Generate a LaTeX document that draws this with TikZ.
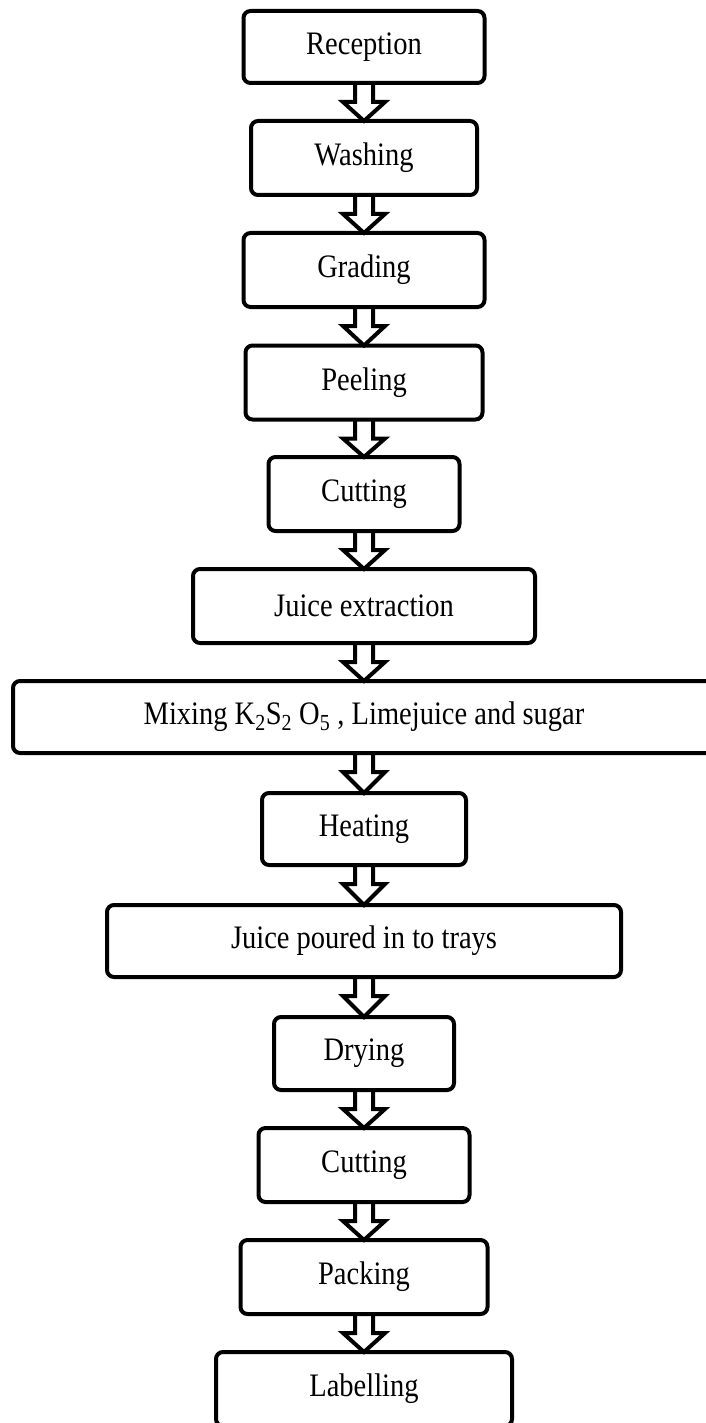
\documentclass[tikz,border=0pt]{standalone}
\usepackage{fontspec}
\setmainfont{Liberation Serif}
\usetikzlibrary{calc}
\pgfdeclarelayer{background}
\pgfsetlayers{background,main}

% taller-than-wide lettering used in the stage boxes
\newcommand\tallstretch[1]{\scalebox{1}[1.15]{#1}}

\tikzset{
  stage/.style={draw, line width=4pt, rounded corners=7pt, minimum height=74pt,
    inner sep=0pt, anchor=center, font=\fontsize{28.5}{34}\selectfont},
  hollow/.style={draw, fill=white, line width=4pt, line join=miter},
}

% hollow block arrow from the bottom of one stage to the top of the next
\newcommand\flowarrow[2]{%
  \draw[hollow] let \p1=(#1.south), \p2=(#2.north) in
    (\x1-9pt,\y1+2pt) -- (\x1-9pt,\y1-17pt) -- (\x1-21pt,\y1-17pt)
    -- (\x1,\y2-2pt) -- (\x1+21pt,\y1-17pt) -- (\x1+9pt,\y1-17pt)
    -- (\x1+9pt,\y1+2pt);}

\begin{document}
\begin{tikzpicture}[x=1pt,y=-1pt]
\useasboundingbox (0,0) rectangle (706,1423);

\node[stage, minimum width=241pt, minimum height=72pt] (s1) at (364,47) {\tallstretch{Reception}};
\node[stage, minimum width=226pt] (s2) at (364,158) {\tallstretch{Washing}};
\node[stage, minimum width=241pt] (s3) at (364,270) {\tallstretch{Grading}};
\node[stage, minimum width=237pt] (s4) at (364,382.5) {\tallstretch{Peeling}};
\node[stage, minimum width=191pt] (s5) at (364,494) {\tallstretch{Cutting}};
\node[stage, minimum width=342pt] (s6) at (364,606) {\tallstretch{Juice extraction}};
\node[stage, minimum width=702pt, minimum height=72pt] (s7) at (364,717)
  {\tallstretch{Mixing K\textsubscript{2}S\textsubscript{2} O\textsubscript{5} , Limejuice and sugar}};
\node[stage, minimum width=204pt, minimum height=72pt] (s8) at (364,829) {\tallstretch{Heating}};
\node[stage, minimum width=514pt, minimum height=72pt] (s9) at (364,941) {\tallstretch{Juice poured in to trays}};
\node[stage, minimum width=180pt, minimum height=73pt] (s10) at (364,1053.5) {\tallstretch{Drying}};
\node[stage, minimum width=211pt] (s11) at (364,1165) {\tallstretch{Cutting}};
\node[stage, minimum width=247pt] (s12) at (364,1277) {\tallstretch{Packing}};
\node[stage, minimum width=296pt] (s13) at (364,1389) {\tallstretch{Labelling}};

\begin{pgfonlayer}{background}
\foreach \a/\b in {s1/s2,s2/s3,s3/s4,s4/s5,s5/s6,s6/s7,s7/s8,s8/s9,s9/s10,s10/s11,s11/s12,s12/s13}
  {\flowarrow{\a}{\b}}
\end{pgfonlayer}
\end{tikzpicture}
\end{document}
